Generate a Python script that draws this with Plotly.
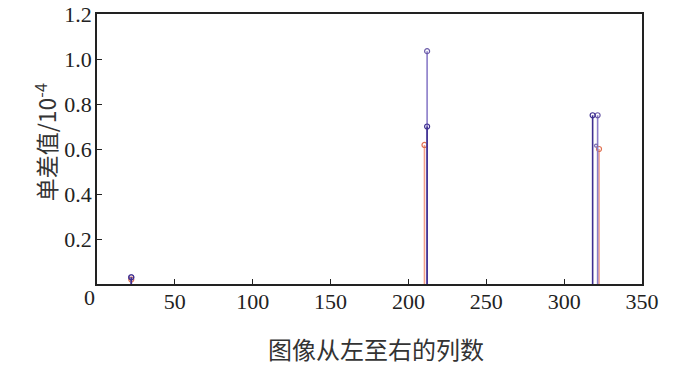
import plotly.graph_objects as go

# Column index (left to right) and single-difference values (×10^-4)
dark_cols = [22, 212, 318.3]
dark_vals = [0.03, 0.70, 0.75]
light_cols = [22, 212, 321.5]
light_vals = [0.03, 1.035, 0.75]
red_cols = [22, 210.3, 322.4]
red_vals = [0.02, 0.618, 0.60]
extra_cols = [320.5]
extra_vals = [0.615]

x_ticks = [50, 100, 150, 200, 250, 300, 350]
y_ticks = [0.2, 0.4, 0.6, 0.8, 1.0, 1.2]
y_tick_text = ["0.2", "0.4", "0.6", "0.8", "1.0", "1.2"]

fig = go.Figure()


def add_stem(cols, vals, color, width, mcolor, msize=5):
    xs, ys = [], []
    for c, v in zip(cols, vals):
        xs += [c, c, None]
        ys += [0, v, None]
    fig.add_trace(go.Scatter(x=xs, y=ys, mode="lines",
                             line=dict(color=color, width=width),
                             hoverinfo="skip", showlegend=False))
    fig.add_trace(go.Scatter(x=cols, y=vals, mode="markers",
                             marker=dict(symbol="circle-open", size=msize,
                                         color=mcolor, line=dict(width=1.2, color=mcolor)),
                             showlegend=False))


add_stem(red_cols, red_vals, "#f3a08a", 1.6, "#e07050")
add_stem(light_cols, light_vals, "#8a7cc8", 1.6, "#6a5aa8")
add_stem(dark_cols, dark_vals, "#3e2f90", 1.6, "#3e2f90")
add_stem(extra_cols, extra_vals, "rgba(0,0,0,0)", 0.1, "#7a6ab0", msize=3)

font_serif = "Liberation Serif, Times New Roman, serif"
cjk = "Noto Sans CJK SC"
fig.update_layout(
    width=700, height=365,
    margin=dict(l=97, r=58, t=14, b=81, autoexpand=False),
    paper_bgcolor="white", plot_bgcolor="white",
    font=dict(family=font_serif, size=22, color="#222"),
    xaxis=dict(range=[0, 350], tickvals=x_ticks, ticks="inside", ticklen=5,
               tickcolor="#222", showline=True, linecolor="#222", linewidth=1.5,
               mirror=True, showgrid=False, zeroline=False, automargin=False,
               tickfont=dict(family=font_serif, size=22, color="#222"),
               ticklabelstandoff=-3),
    yaxis=dict(range=[0, 1.2], tickvals=y_ticks, ticktext=y_tick_text,
               ticks="inside", ticklen=5, tickcolor="#222",
               showline=True, linecolor="#222", linewidth=1.5, mirror=True,
               showgrid=False, zeroline=False, automargin=False,
               tickfont=dict(family=font_serif, size=22, color="#222"),
               ticklabelstandoff=-1),
)

fig.add_annotation(text="0", x=0, y=0, xref="x", yref="y", showarrow=False,
                   xanchor="center", yanchor="middle", xshift=-8, yshift=-13,
                   font=dict(family=font_serif, size=22, color="#222"))
fig.add_annotation(text="图像从左至右的列数", x=0.5, y=0, xref="paper", yref="paper",
                   showarrow=False, xanchor="center", yanchor="middle",
                   xshift=6, yshift=-64,
                   font=dict(family=cjk, size=24, color="#333"))
fig.add_annotation(text="单差值/10<sup>-4</sup>", x=0, y=0.63, xref="paper", yref="y",
                   showarrow=False, xanchor="center", yanchor="middle",
                   textangle=-90, xshift=-51,
                   font=dict(family=cjk, size=23, color="#333"))

fig.write_html("out.html", config={"displayModeBar": False},
               post_script="document.body.style.margin='0';")
